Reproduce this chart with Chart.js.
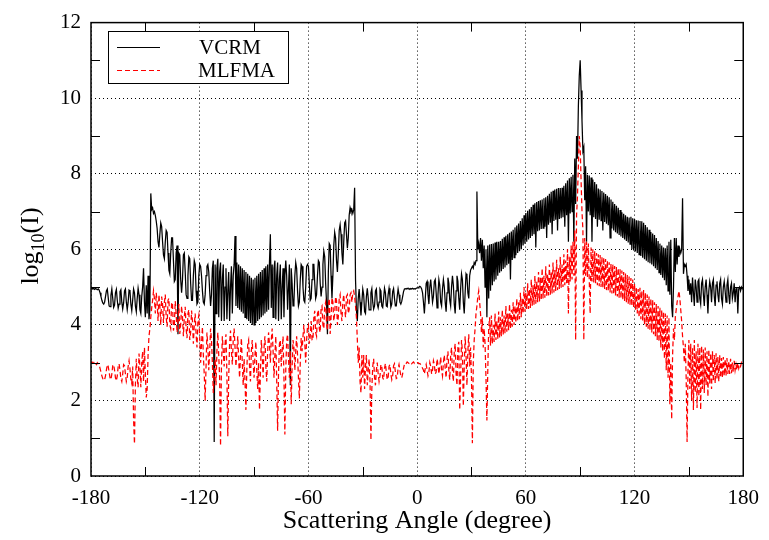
<!DOCTYPE html>
<html>
<head>
<meta charset="utf-8">
<script src="https://cdn.jsdelivr.net/npm/chart.js@4.4.1/dist/chart.umd.min.js"></script>
<style>
  html, body { margin: 0; padding: 0; background: #fff; }
</style>
</head>
<body>
<canvas id="grafico" width="769" height="540"></canvas>
<script>
// scattering angle (degree), one sample every 0.5 degree
var angulos = [
  -180,-179.5,-179,-178.5,-178,-177.5,-177,-176.5,-176,-175.5,-175,-174.5,-174,-173.5,-173,-172.5,-172,-171.5,-171,-170.5,
  -170,-169.5,-169,-168.5,-168,-167.5,-167,-166.5,-166,-165.5,-165,-164.5,-164,-163.5,-163,-162.5,-162,-161.5,-161,-160.5,
  -160,-159.5,-159,-158.5,-158,-157.5,-157,-156.5,-156,-155.5,-155,-154.5,-154,-153.5,-153,-152.5,-152,-151.5,-151,-150.5,
  -150,-149.5,-149,-148.5,-148,-147.5,-147,-146.5,-146,-145.5,-145,-144.5,-144,-143.5,-143,-142.5,-142,-141.5,-141,-140.5,
  -140,-139.5,-139,-138.5,-138,-137.5,-137,-136.5,-136,-135.5,-135,-134.5,-134,-133.5,-133,-132.5,-132,-131.5,-131,-130.5,
  -130,-129.5,-129,-128.5,-128,-127.5,-127,-126.5,-126,-125.5,-125,-124.5,-124,-123.5,-123,-122.5,-122,-121.5,-121,-120.5,
  -120,-119.5,-119,-118.5,-118,-117.5,-117,-116.5,-116,-115.5,-115,-114.5,-114,-113.5,-113,-112.5,-112,-111.5,-111,-110.5,
  -110,-109.5,-109,-108.5,-108,-107.5,-107,-106.5,-106,-105.5,-105,-104.5,-104,-103.5,-103,-102.5,-102,-101.5,-101,-100.5,
  -100,-99.5,-99,-98.5,-98,-97.5,-97,-96.5,-96,-95.5,-95,-94.5,-94,-93.5,-93,-92.5,-92,-91.5,-91,-90.5,
  -90,-89.5,-89,-88.5,-88,-87.5,-87,-86.5,-86,-85.5,-85,-84.5,-84,-83.5,-83,-82.5,-82,-81.5,-81,-80.5,
  -80,-79.5,-79,-78.5,-78,-77.5,-77,-76.5,-76,-75.5,-75,-74.5,-74,-73.5,-73,-72.5,-72,-71.5,-71,-70.5,
  -70,-69.5,-69,-68.5,-68,-67.5,-67,-66.5,-66,-65.5,-65,-64.5,-64,-63.5,-63,-62.5,-62,-61.5,-61,-60.5,
  -60,-59.5,-59,-58.5,-58,-57.5,-57,-56.5,-56,-55.5,-55,-54.5,-54,-53.5,-53,-52.5,-52,-51.5,-51,-50.5,
  -50,-49.5,-49,-48.5,-48,-47.5,-47,-46.5,-46,-45.5,-45,-44.5,-44,-43.5,-43,-42.5,-42,-41.5,-41,-40.5,
  -40,-39.5,-39,-38.5,-38,-37.5,-37,-36.5,-36,-35.5,-35,-34.5,-34,-33.5,-33,-32.5,-32,-31.5,-31,-30.5,
  -30,-29.5,-29,-28.5,-28,-27.5,-27,-26.5,-26,-25.5,-25,-24.5,-24,-23.5,-23,-22.5,-22,-21.5,-21,-20.5,
  -20,-19.5,-19,-18.5,-18,-17.5,-17,-16.5,-16,-15.5,-15,-14.5,-14,-13.5,-13,-12.5,-12,-11.5,-11,-10.5,
  -10,-9.5,-9,-8.5,-8,-7.5,-7,-6.5,-6,-5.5,-5,-4.5,-4,-3.5,-3,-2.5,-2,-1.5,-1,-0.5,
  0,0.5,1,1.5,2,2.5,3,3.5,4,4.5,5,5.5,6,6.5,7,7.5,8,8.5,9,9.5,
  10,10.5,11,11.5,12,12.5,13,13.5,14,14.5,15,15.5,16,16.5,17,17.5,18,18.5,19,19.5,
  20,20.5,21,21.5,22,22.5,23,23.5,24,24.5,25,25.5,26,26.5,27,27.5,28,28.5,29,29.5,
  30,30.5,31,31.5,32,32.5,33,33.5,34,34.5,35,35.5,36,36.5,37,37.5,38,38.5,39,39.5,
  40,40.5,41,41.5,42,42.5,43,43.5,44,44.5,45,45.5,46,46.5,47,47.5,48,48.5,49,49.5,
  50,50.5,51,51.5,52,52.5,53,53.5,54,54.5,55,55.5,56,56.5,57,57.5,58,58.5,59,59.5,
  60,60.5,61,61.5,62,62.5,63,63.5,64,64.5,65,65.5,66,66.5,67,67.5,68,68.5,69,69.5,
  70,70.5,71,71.5,72,72.5,73,73.5,74,74.5,75,75.5,76,76.5,77,77.5,78,78.5,79,79.5,
  80,80.5,81,81.5,82,82.5,83,83.5,84,84.5,85,85.5,86,86.5,87,87.5,88,88.5,89,89.5,
  90,90.5,91,91.5,92,92.5,93,93.5,94,94.5,95,95.5,96,96.5,97,97.5,98,98.5,99,99.5,
  100,100.5,101,101.5,102,102.5,103,103.5,104,104.5,105,105.5,106,106.5,107,107.5,108,108.5,109,109.5,
  110,110.5,111,111.5,112,112.5,113,113.5,114,114.5,115,115.5,116,116.5,117,117.5,118,118.5,119,119.5,
  120,120.5,121,121.5,122,122.5,123,123.5,124,124.5,125,125.5,126,126.5,127,127.5,128,128.5,129,129.5,
  130,130.5,131,131.5,132,132.5,133,133.5,134,134.5,135,135.5,136,136.5,137,137.5,138,138.5,139,139.5,
  140,140.5,141,141.5,142,142.5,143,143.5,144,144.5,145,145.5,146,146.5,147,147.5,148,148.5,149,149.5,
  150,150.5,151,151.5,152,152.5,153,153.5,154,154.5,155,155.5,156,156.5,157,157.5,158,158.5,159,159.5,
  160,160.5,161,161.5,162,162.5,163,163.5,164,164.5,165,165.5,166,166.5,167,167.5,168,168.5,169,169.5,
  170,170.5,171,171.5,172,172.5,173,173.5,174,174.5,175,175.5,176,176.5,177,177.5,178,178.5,179,179.5,
  180
];

// VCRM, log10(I)
var vcrm = [
  4.95,4.97,4.95,4.96,4.94,4.96,4.95,4.93,4.95,4.92,4.85,4.75,4.65,4.58,4.55,4.6,4.75,4.9,4.95,4.72,
  4.5,4.48,4.78,4.95,4.7,4.46,4.52,4.85,4.94,4.65,4.44,4.55,4.88,4.93,4.6,4.42,4.58,4.9,4.95,4.6,
  4.4,4.6,4.92,4.9,4.55,4.38,4.65,4.95,4.85,4.5,4.35,4.7,4.97,4.8,4.4,4.3,4.75,5.0,5.5,4.6,
  4.2,5.05,4.3,5.3,4.15,4.4,7.48,7.05,7.1,6.95,7.0,6.9,6.75,6.55,6.2,6.05,6.4,6.7,6.6,6.2,
  5.85,5.75,6.2,6.5,6.45,5.9,5.45,5.35,5.9,6.3,6.3,5.7,5.15,5.2,5.9,6.1,3.75,5.9,5.85,5.2,
  4.85,5.2,5.85,5.9,5.4,4.8,4.7,5.3,5.8,5.75,5.1,4.65,4.65,5.3,5.7,5.6,4.9,4.55,4.6,5.3,
  5.6,5.55,5.3,4.9,4.6,4.55,4.8,5.3,5.55,5.6,5.4,4.9,4.5,4.8,5.5,5.7,0.9,5.6,4.3,5.5,
  5.75,4.2,5.4,5.65,4.1,5.2,5.6,4.1,5.0,5.5,4.15,4.9,5.4,4.1,5.0,5.55,4.3,5.3,5.6,6.35,
  4.5,5.65,4.45,5.6,4.4,5.55,4.35,5.5,4.3,5.45,4.2,5.4,4.15,5.35,4.1,5.3,4.05,5.25,4.0,5.2,
  4.0,5.25,4.05,5.3,4.1,5.35,4.15,5.4,4.2,5.45,4.25,5.5,4.3,5.55,4.35,5.6,4.4,5.65,6.4,4.45,
  5.6,4.2,5.5,5.7,4.15,5.3,5.65,4.1,5.2,5.6,4.15,5.0,5.5,4.2,5.3,5.7,5.3,4.4,5.0,5.6,
  2.4,5.5,5.1,4.5,4.6,5.3,5.65,5.5,4.9,4.5,4.6,5.2,5.6,5.55,5.0,4.65,4.6,5.0,5.55,5.6,
  5.55,5.1,4.65,4.7,5.2,5.6,5.6,5.1,4.7,4.8,5.3,5.7,5.65,5.1,4.75,5.0,5.6,5.95,5.8,5.1,
  4.6,3.75,5.4,6.15,6.1,5.3,4.7,5.3,6.1,6.45,6.3,5.7,5.4,5.9,6.5,6.65,6.4,5.9,5.6,6.2,
  6.7,6.75,6.4,6.03,6.3,6.9,7.1,7.0,7.05,6.95,7.05,7.63,5.2,4.4,4.1,4.7,4.95,4.6,4.25,4.6,
  4.95,4.8,4.35,4.3,4.75,4.97,4.7,4.4,4.4,4.85,4.96,4.6,4.42,4.5,4.9,4.95,4.55,4.45,4.6,4.95,
  4.9,4.5,4.46,4.7,4.97,4.85,4.5,4.48,4.8,4.97,4.75,4.47,4.55,4.88,4.96,4.7,4.5,4.5,4.75,4.95,
  4.8,4.6,4.55,4.62,4.75,4.88,4.95,4.96,4.95,4.97,4.95,4.96,4.94,4.96,4.95,4.97,4.95,4.96,4.95,4.97,
  4.98,4.98,5.0,5.02,5.0,4.95,4.85,4.6,4.3,4.7,5.1,5.15,4.8,4.55,5.0,5.2,4.9,4.6,4.75,5.15,
  5.2,4.85,4.45,4.8,5.2,5.05,4.6,4.5,4.95,5.2,5.0,4.6,4.35,4.85,5.25,5.1,4.65,4.5,5.0,5.3,
  5.05,4.55,4.3,4.9,5.3,5.15,4.7,4.4,4.95,5.35,5.2,4.6,4.3,4.85,5.35,5.3,4.85,4.7,5.3,5.45,
  5.5,5.55,5.5,5.65,5.6,5.7,7.53,6.0,6.15,5.9,6.3,5.7,6.25,5.5,6.1,5.0,6.0,4.2,6.1,4.7,
  6.13,4.9,6.14,5.05,6.15,5.15,6.18,5.2,6.2,5.3,6.2,5.38,6.22,5.42,6.28,5.48,6.32,5.52,6.36,5.58,
  6.4,5.62,6.44,5.2,6.47,5.72,6.52,5.78,6.58,5.84,6.63,5.9,6.68,5.95,6.75,6.0,6.82,6.1,6.9,6.15,
  6.96,6.2,7.02,6.26,7.06,6.3,7.12,6.35,7.18,6.4,7.22,6.05,7.25,6.48,7.28,6.5,7.3,6.54,7.32,6.56,
  7.35,6.6,7.38,6.3,7.42,6.65,7.47,6.7,7.52,6.4,7.55,6.75,7.58,6.78,7.6,6.5,7.62,6.8,7.62,6.82,
  7.63,6.85,7.68,6.6,7.75,6.9,7.82,6.2,7.88,6.95,7.92,7.0,7.97,6.2,8.4,7.2,9.0,8.4,9.8,10.6,
  11.0,10.2,9.4,8.6,8.7,7.3,8.2,6.2,7.97,7.0,7.95,6.9,7.9,6.2,7.85,6.85,7.78,6.8,7.72,6.6,
  7.61,6.78,7.58,6.76,7.54,6.5,7.5,6.72,7.46,6.68,7.42,6.64,7.38,6.3,7.32,6.55,7.26,6.5,7.2,6.45,
  7.15,6.42,7.1,6.38,7.04,6.34,6.98,6.3,6.94,6.26,6.9,6.22,6.86,6.18,6.84,6.14,6.86,6.0,6.82,5.97,
  6.8,5.94,6.77,5.9,6.76,5.86,6.75,5.82,6.74,5.78,6.7,5.74,6.64,5.7,6.58,5.66,6.52,5.63,6.46,5.6,
  6.42,5.55,6.38,5.5,6.3,5.45,6.22,5.38,6.15,5.32,6.1,5.25,6.05,5.18,6.03,5.05,6.1,4.9,6.2,4.8,
  6.25,4.5,4.2,5.0,6.3,5.4,6.3,5.6,6.1,5.8,6.0,5.9,6.0,7.35,5.35,5.6,5.55,5.6,5.3,4.9,
  5.2,4.8,5.1,4.6,5.25,4.85,4.5,5.2,5.0,4.6,5.15,5.2,4.7,4.55,5.1,5.2,4.8,4.5,5.0,5.2,
  4.8,4.3,4.9,5.15,5.0,4.6,5.1,5.2,4.75,4.5,5.05,5.15,4.8,4.6,5.1,5.2,4.7,4.55,5.0,5.15,
  4.9,4.6,5.05,5.2,4.8,4.55,5.0,5.1,4.7,4.85,5.1,4.6,4.95,5.0,4.3,4.95,5.0,4.9,5.0,4.95,
  4.95
];

// MLFMA, log10(I)
var mlfma = [
  3.0,3.02,2.98,3.0,3.03,2.98,2.95,3.0,2.97,2.93,2.85,2.75,2.65,2.58,2.53,2.55,2.65,2.8,2.95,2.9,
  2.75,2.6,2.55,2.7,2.92,2.95,2.8,2.6,2.52,2.65,2.9,2.97,2.8,2.58,2.5,2.7,2.95,2.92,2.7,2.5,
  2.6,2.9,3.05,2.85,2.55,2.45,2.9,1.5,0.85,2.4,3.1,2.6,2.35,3.24,2.9,2.35,3.0,3.3,2.5,3.4,
  2.7,2.08,2.3,3.2,3.7,3.9,4.2,4.45,4.65,4.9,4.7,4.3,4.85,4.6,4.1,4.8,4.5,4.0,4.75,4.55,
  4.05,4.6,4.8,4.2,3.95,4.65,4.7,4.0,3.9,4.6,4.55,3.85,4.0,4.63,4.3,3.8,4.1,4.55,3.76,4.0,
  4.5,4.2,3.7,4.2,4.48,3.9,3.65,4.3,4.4,3.6,3.8,4.38,4.1,3.5,4.0,4.3,3.75,3.4,4.1,4.25,
  3.7,3.0,3.5,3.95,3.2,2.7,2.0,2.9,3.8,3.4,2.8,3.3,3.9,3.6,3.0,2.2,2.6,3.1,2.4,3.3,
  3.8,3.2,2.6,0.8,2.9,3.7,3.3,2.9,3.5,3.75,2.7,1.05,2.6,3.5,3.85,3.3,2.95,3.6,3.9,3.4,
  2.9,3.3,3.7,3.1,2.6,3.2,3.65,3.0,2.4,3.1,2.5,1.75,2.8,3.5,3.6,2.9,2.5,3.3,3.6,3.0,
  2.6,3.2,3.55,2.8,2.3,3.0,1.75,2.7,3.6,3.2,2.6,3.4,3.7,2.9,2.5,3.3,3.8,3.5,3.0,3.6,
  3.9,3.3,2.6,3.2,3.7,2.5,1.2,2.7,3.5,3.6,2.9,3.3,3.7,2.6,1.1,2.8,3.6,3.75,3.1,2.6,
  3.3,1.9,2.9,3.6,3.4,2.8,3.3,3.7,3.2,2.6,2.05,3.0,3.65,3.3,3.7,4.0,3.5,3.0,3.6,3.95,
  4.0,3.5,3.7,4.1,3.6,3.6,4.2,4.37,3.8,3.7,4.3,4.4,3.9,3.8,4.45,4.5,4.0,3.9,4.5,4.6,
  4.05,3.85,4.55,4.7,3.76,4.2,4.72,4.6,4.1,4.3,4.75,4.65,4.0,4.2,4.7,4.8,4.3,4.1,4.6,4.8,
  4.4,4.2,4.75,4.8,4.3,4.4,4.8,4.85,4.6,4.85,4.9,4.75,4.5,4.2,3.6,3.0,3.4,2.5,2.2,3.2,
  2.6,3.2,2.3,2.9,3.2,2.4,2.8,3.1,2.5,0.95,2.3,2.9,3.1,2.6,2.4,2.8,3.0,2.7,2.5,2.65,
  2.95,2.9,2.6,2.55,2.85,2.98,2.75,2.55,2.6,2.9,2.95,2.7,2.55,2.65,2.92,2.97,2.75,2.58,2.6,2.85,
  2.95,2.8,2.65,2.6,2.7,2.85,2.96,3.0,2.98,3.02,3.0,2.98,3.01,3.0,2.97,3.0,3.02,2.98,3.0,2.99,
  3.0,3.0,2.97,2.98,2.95,2.9,2.85,2.8,2.7,2.85,2.95,2.8,2.65,2.75,3.0,2.9,2.7,2.8,3.05,2.95,
  2.7,2.75,3.1,2.95,2.7,2.9,3.15,2.8,2.65,3.0,3.2,2.85,2.6,3.1,3.3,2.8,2.55,3.2,3.4,2.75,
  2.5,3.3,3.5,2.7,2.4,3.4,3.55,1.75,2.6,3.6,3.3,1.85,2.9,3.7,3.2,2.4,3.3,3.75,2.9,3.4,
  2.6,0.87,3.0,3.6,3.9,4.3,4.5,4.75,4.9,4.6,4.3,3.8,4.2,3.4,3.9,3.5,2.6,1.47,2.8,3.9,
  4.2,3.45,4.25,3.5,4.0,3.55,4.3,3.6,4.1,3.62,4.35,3.66,4.2,3.7,4.4,3.74,4.25,3.78,4.5,3.82,
  4.3,3.86,4.55,3.9,4.4,3.95,4.6,4.0,4.5,4.05,4.7,4.1,4.6,4.15,4.85,4.2,4.7,4.3,5.0,4.35,
  4.85,4.4,5.1,4.42,4.95,4.45,5.2,4.5,5.05,4.53,5.3,4.56,5.15,4.6,5.4,4.62,5.25,4.65,5.5,4.7,
  5.3,4.72,5.55,4.75,5.35,4.78,5.6,4.8,5.4,4.83,5.65,4.86,5.45,4.9,5.72,4.92,5.5,4.95,5.8,4.98,
  5.6,5.0,5.87,5.05,5.7,5.1,6.0,4.3,5.8,5.15,6.1,5.2,6.2,5.3,6.5,3.6,6.9,7.4,8.2,9.0,
  8.7,7.8,7.0,6.5,3.6,6.3,5.3,6.2,5.25,6.15,5.2,4.3,6.05,5.15,6.0,5.12,5.95,5.1,5.9,5.05,
  5.87,5.02,5.85,5.0,5.8,4.97,5.78,4.95,5.74,4.92,5.7,4.9,5.66,4.86,5.62,4.83,5.6,4.8,5.56,4.78,
  5.53,4.75,5.5,4.72,5.47,4.7,5.44,4.66,5.4,4.63,5.36,4.6,5.32,4.56,5.28,4.53,5.24,4.5,5.2,4.46,
  5.1,4.4,5.0,4.3,4.95,4.2,4.98,4.15,4.9,4.1,4.92,4.0,4.85,3.95,4.8,3.9,4.75,3.85,4.7,3.8,
  4.65,3.75,4.6,3.7,4.55,3.6,4.5,3.55,4.45,3.4,4.4,3.3,4.35,3.1,4.3,2.8,4.25,2.6,4.2,1.9,
  3.0,1.5,3.2,3.9,3.6,4.2,4.4,4.6,4.75,4.9,4.7,4.4,4.1,3.7,3.4,3.0,3.5,2.6,0.9,2.8,
  3.6,2.3,3.5,2.0,3.4,1.75,3.6,2.2,3.3,1.8,3.5,2.1,3.4,1.75,3.45,2.3,3.35,2.2,3.4,2.4,
  3.3,2.1,3.35,2.45,3.25,2.3,3.3,2.5,3.2,2.45,3.25,2.55,3.15,2.5,3.2,2.6,3.12,2.6,3.15,2.65,
  3.1,2.65,3.12,2.7,3.05,2.7,3.1,2.72,3.0,2.75,3.05,2.8,2.95,2.8,3.0,2.85,2.95,2.9,3.0,2.95,
  2.97
];

var nomesSeries = ['VCRM', 'MLFMA'];
var xMinorTicks = [-150, -90, -30, 30, 90, 150];
var yMinorTicks = [1, 3, 5, 7, 9, 11];
var tituloX = 'Scattering Angle (degree)';
var fonte = 'Liberation Serif';

function montarPontos(valores) {
    var n = Math.min(angulos.length, valores.length);
    var pts = [];
    for (var i = 0; i < n; i++) {
        pts.push({ x: angulos[i], y: valores[i] });
    }
    return pts;
}

// frame, inner ticks, legend box and axis titles
var molduraPlugin = {
    id: 'moldura',
    afterDraw: function (chart) {
        var ctx = chart.ctx;
        var area = chart.chartArea;
        var sx = chart.scales.x;
        var sy = chart.scales.y;
        ctx.save();
        ctx.setLineDash([]);
        ctx.strokeStyle = '#000';

        // minor ticks pointing inwards on all four sides
        ctx.lineWidth = 1;
        ctx.beginPath();
        xMinorTicks.forEach(function (v) {
            var px = Math.round(sx.getPixelForValue(v)) + 0.5;
            ctx.moveTo(px, area.bottom); ctx.lineTo(px, area.bottom - 9);
            ctx.moveTo(px, area.top); ctx.lineTo(px, area.top + 9);
        });
        yMinorTicks.forEach(function (v) {
            var py = Math.round(sy.getPixelForValue(v)) + 0.5;
            ctx.moveTo(area.left, py); ctx.lineTo(area.left + 9, py);
            ctx.moveTo(area.right, py); ctx.lineTo(area.right - 9, py);
        });
        ctx.stroke();

        ctx.lineWidth = 1.5;
        ctx.strokeRect(area.left, area.top, area.right - area.left, area.bottom - area.top);

        // legend
        ctx.lineWidth = 1;
        ctx.fillStyle = '#fff';
        ctx.fillRect(108.5, 31.5, 180, 52);
        ctx.strokeRect(108.5, 31.5, 180, 52);
        ctx.lineWidth = 1.2;
        ctx.beginPath();
        ctx.moveTo(117, 47.5); ctx.lineTo(160, 47.5);
        ctx.stroke();
        ctx.strokeStyle = '#ff0000';
        ctx.setLineDash([5, 3]);
        ctx.beginPath();
        ctx.moveTo(117, 70.5); ctx.lineTo(160, 70.5);
        ctx.stroke();
        ctx.setLineDash([]);
        ctx.fillStyle = '#000';
        ctx.font = '21px "' + fonte + '"';
        ctx.textAlign = 'left';
        ctx.textBaseline = 'middle';
        ctx.fillText(nomesSeries[0], 199, 48);
        ctx.fillText(nomesSeries[1], 198, 71);

        // x title
        ctx.font = '26px "' + fonte + '"';
        ctx.textAlign = 'center';
        ctx.fillText(tituloX, (area.left + area.right) / 2, 521);

        // y title: log10(I) with subscript
        ctx.save();
        ctx.translate(30, 246);
        ctx.rotate(-Math.PI / 2);
        ctx.textAlign = 'left';
        ctx.textBaseline = 'alphabetic';
        var fNormal = '26px "' + fonte + '"';
        var fSub = '18px "' + fonte + '"';
        ctx.font = fNormal;
        var w1 = ctx.measureText('log').width;
        var w3 = ctx.measureText('(I)').width;
        ctx.font = fSub;
        var w2 = ctx.measureText('10').width;
        var x0 = -(w1 + w2 + w3) / 2;
        ctx.font = fNormal;
        ctx.fillText('log', x0, 8);
        ctx.font = fSub;
        ctx.fillText('10', x0 + w1, 14);
        ctx.font = fNormal;
        ctx.fillText('(I)', x0 + w1 + w2, 8);
        ctx.restore();

        ctx.restore();
    }
};

var ctx = document.getElementById('grafico').getContext('2d');
var myChart = new Chart(ctx, {
    type: 'line',
    data: {
        datasets: [{
            label: nomesSeries[0],
            data: montarPontos(vcrm),
            borderColor: '#000000',
            borderWidth: 1.25,
            order: 2
        },
        {
            label: nomesSeries[1],
            data: montarPontos(mlfma),
            borderColor: '#ff0000',
            borderWidth: 1.25,
            borderDash: [5, 3],
            order: 1
        }]
    },
    options: {
        responsive: false,
        animation: false,
        devicePixelRatio: 1,
        layout: { padding: { top: 20, right: 24, left: 0, bottom: 0 } },
        elements: { point: { radius: 0 }, line: { tension: 0 } },
        plugins: { legend: { display: false }, tooltip: { enabled: false } },
        scales: {
            x: {
                type: 'linear',
                min: -180,
                max: 180,
                ticks: {
                    stepSize: 60,
                    color: '#000',
                    font: { family: fonte, size: 21 },
                    padding: 10,
                    maxRotation: 0,
                    autoSkip: false
                },
                grid: { color: '#000', lineWidth: 1, drawTicks: false },
                border: { display: false, dash: [1, 3] },
                afterFit: function (s) { s.height = 64; }
            },
            y: {
                min: 0,
                max: 12,
                ticks: {
                    stepSize: 2,
                    color: '#000',
                    font: { family: fonte, size: 21 },
                    padding: 10
                },
                grid: { color: '#000', lineWidth: 1, drawTicks: false },
                border: { display: false, dash: [1, 3] },
                afterFit: function (s) { s.width = 91; }
            }
        }
    },
    plugins: [molduraPlugin]
});
</script>
</body>
</html>
